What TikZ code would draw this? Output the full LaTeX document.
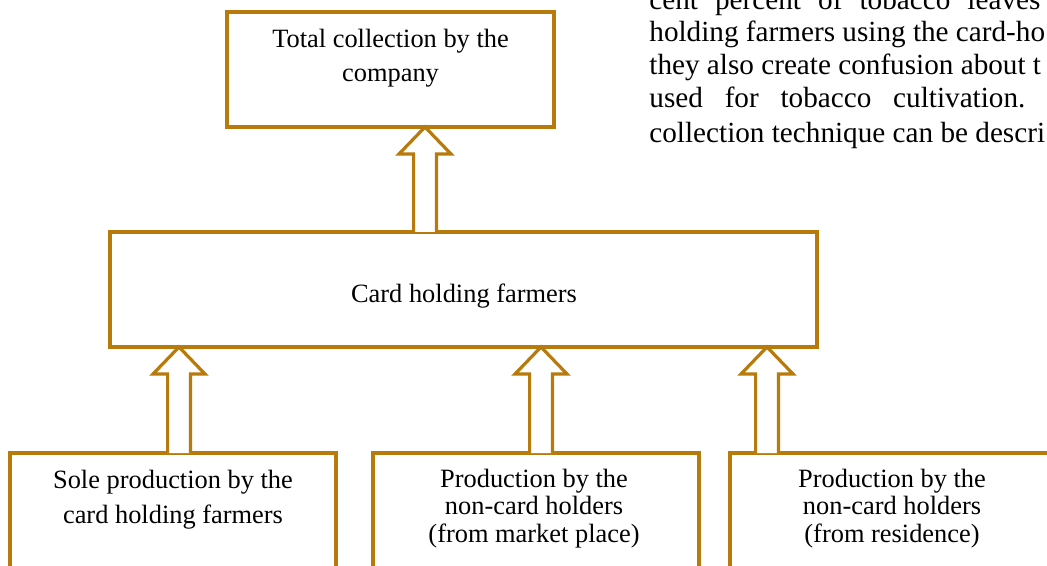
\documentclass[tikz,border=0pt]{standalone}
\usepackage{fontspec}
\setmainfont{Liberation Serif}
\usetikzlibrary{calc}
\definecolor{goldbrown}{RGB}{184,122,10}

\tikzset{
  box/.style={draw=goldbrown, line width=2pt, fill=white, rectangle, inner sep=0pt, outer sep=0pt},
  boxtxt/.style={align=center, inner sep=0pt, anchor=base},
  blockarr/.style={draw=goldbrown, line width=1.6pt, fill=white, line join=miter},
  paratxt/.style={inner sep=0pt, anchor=base west, font=\fontsize{14.6}{16.5}\selectfont},
}

% hollow block arrow pointing up, from #1 to #2
\newcommand{\upshaft}[2]{%
  \draw[blockarr] let \p1=(#1), \p2=(#2) in
    (\x1-5.7pt,\y1) -- (\x1-5.7pt,\y2-13.5pt) -- (\x1-13pt,\y2-13.5pt) -- (\x1,\y2)
    -- (\x1+13pt,\y2-13.5pt) -- (\x1+5.7pt,\y2-13.5pt) -- (\x1+5.7pt,\y1);}

\begin{document}
\begin{tikzpicture}[x=0.5pt,y=-0.5pt]
	\useasboundingbox (0,0) rectangle (1047,566);
	\clip (0,0) rectangle (1047,566);

	% running text of the page
	\node[paratxt] (par1) at (649,10) {\makebox[195.5pt][s]{cent percent of tobacco leaves}};
	\node[paratxt] (par2) at (649,42) {holding farmers using the card-ho};
	\node[paratxt] (par3) at (649,75) {they also create confusion about t};
	\node[paratxt] (par4) at (649,108) {\makebox[188pt][s]{used for tobacco cultivation.}};
	\node[paratxt] (par5) at (649,143) {collection technique can be descri};

	% boxes
	\node[box, minimum width=163.5pt, minimum height=57.5pt] (total) at (390.5,69.5) {};
	\node[box, minimum width=353.5pt, minimum height=57.5pt] (card) at (463.5,289.5) {};
	\node[box, minimum width=163pt, minimum height=100pt] (sole) at (173,553) {};
	\node[box, minimum width=163pt, minimum height=100pt] (market) at (536,553) {};
	\node[box, minimum width=163pt, minimum height=100pt] (resid) at (893,553) {};

	% box texts (base = last line)
	\node[boxtxt, font=\fontsize{13.2}{17}\selectfont] (totaltxt) at (390.5,82) {Total collection by the\\company};
	\node[boxtxt, font=\fontsize{13.2}{17.2}\selectfont] (cardtxt) at (464,302) {Card holding farmers};
	\node[boxtxt, font=\fontsize{13.2}{17.5}\selectfont] (soletxt) at (173,523) {Sole production by the\\card holding farmers};
	\node[boxtxt, font=\fontsize{13.2}{13.75}\selectfont] (markettxt) at (534,542) {Production by the\\non-card holders\\(from market place)};
	\node[boxtxt, font=\fontsize{13.2}{13.75}\selectfont] (residtxt) at (892,542) {Production by the\\non-card holders\\(from residence)};

	% block arrows
	\coordinate (a0) at (425,232);
	\coordinate (a1) at (179,453);
	\coordinate (a2) at (541,453);
	\coordinate (a3) at (767,453);
	\upshaft{a0}{a0 |- total.south}
	\upshaft{a1}{a1 |- card.south}
	\upshaft{a2}{a2 |- card.south}
	\upshaft{a3}{a3 |- card.south}
\end{tikzpicture}
\end{document}
